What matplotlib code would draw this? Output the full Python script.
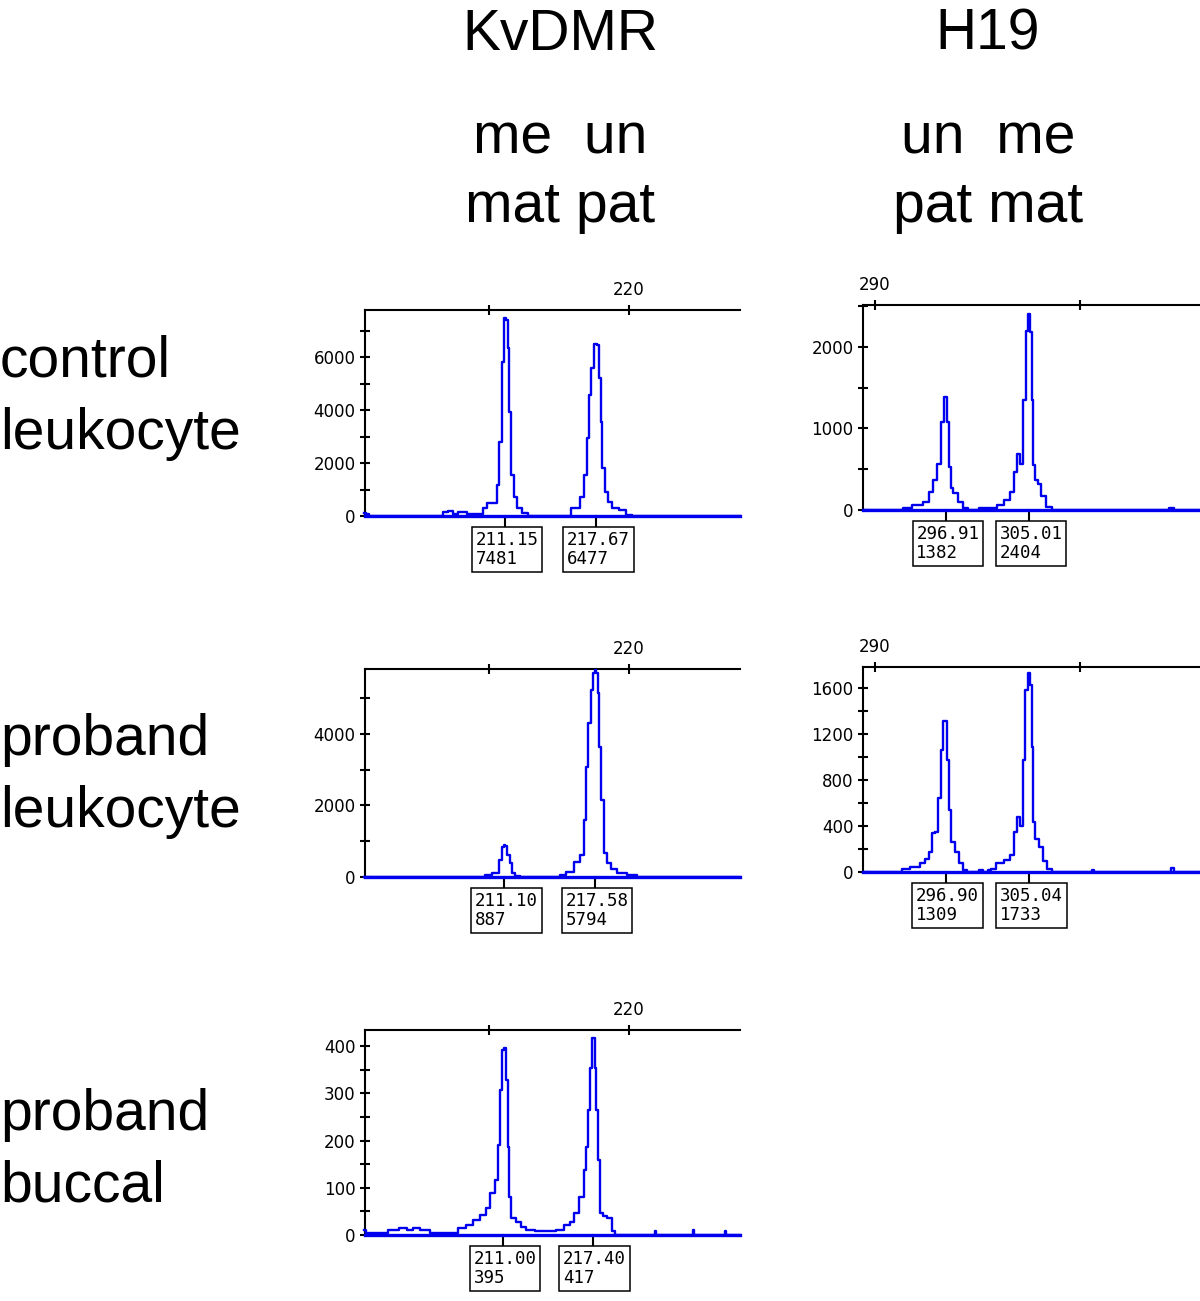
import matplotlib.pyplot as plt
from matplotlib.ticker import MultipleLocator

plt.rcParams['font.family'] = ['Liberation Sans', 'DejaVu Sans']

# column / row captions
col_titles = ['KvDMR', 'H19']
col_line1 = ['me  un', 'un  me']
col_line2 = ['mat pat', 'pat mat']
row_labels = [('control', 'leukocyte'), ('proband', 'leukocyte'), ('proband', 'buccal')]

# KvDMR, control leukocyte (size bp, height)
kv_ctrl_x = [201.1, 201.3, 201.6, 206.6, 206.8, 207.3, 207.6, 208.0, 208.8, 209.5,
             209.7, 210.0, 210.5, 210.64, 210.79, 211.0, 211.14, 211.3, 211.4, 211.5,
             211.71, 211.86, 212.07, 212.71, 212.93, 215.43, 216.29, 216.71, 216.93, 217.07,
             217.21, 217.36, 217.67, 217.79, 217.93, 218.07, 218.14, 218.43, 218.64, 219.0,
             219.57, 220.07, 220.3, 227.9]
kv_ctrl_y = [100, 60, 0, 0, 150, 170, 80, 160, 80, 80,
             300, 490, 490, 1170, 2800, 5800, 7481, 7400, 6340, 3920,
             1550, 720, 300, 110, 0, 0, 300, 720, 1550, 2940,
             4570, 5580, 6477, 6470, 5200, 3550, 1800, 900, 530, 300,
             230, 40, 0, 0]
kv_ctrl_peaks = [('211.15', '7481'), ('217.67', '6477')]

# H19, control leukocyte
h19_ctrl_x = [288.9, 292.7, 292.8, 294.39, 295.07, 295.56, 295.85, 296.24, 296.63, 296.83,
              297.0, 297.1, 297.3, 297.5, 297.8, 298.3, 298.8, 299.3, 300.9, 301.6,
              302.2, 302.9, 303.4, 303.7, 304.0, 304.3, 304.6, 304.8, 305.0, 305.2,
              305.4, 305.5, 305.8, 306.0, 306.4, 306.9, 307.6, 318.6, 318.7, 319.1,
              319.2, 321.7]
h19_ctrl_y = [0, 0, 30, 60, 100, 220, 370, 570, 1080, 1382,
              1382, 1080, 530, 270, 210, 100, 25, 0, 25, 25,
              60, 120, 220, 470, 690, 570, 1350, 2190, 2404, 2180,
              1350, 550, 370, 320, 170, 40, 0, 0, 30, 30,
              0, 0]
h19_ctrl_peaks = [('296.91', '1382'), ('305.01', '2404')]

# KvDMR, proband leukocyte
kv_pl_x = [201.1, 209.6, 209.86, 210.57, 210.79, 211.0, 211.1, 211.2, 211.36, 211.57,
           211.71, 212.07, 212.3, 215.0, 215.21, 215.79, 216.29, 216.64, 216.86, 217.0,
           217.14, 217.36, 217.5, 217.58, 217.71, 217.79, 217.93, 218.14, 218.29, 218.5,
           218.86, 219.36, 220.29, 220.8, 227.9]
kv_pl_y = [0, 0, 56, 110, 475, 840, 887, 880, 615, 390,
           110, 30, 0, 0, 56, 140, 420, 615, 1590, 3080,
           4300, 5230, 5700, 5794, 5700, 5150, 3640, 2150, 670, 390,
           220, 110, 56, 0, 0]
kv_pl_peaks = [('211.10', '887'), ('217.58', '5794')]

# H19, proband leukocyte
h19_pl_x = [288.9, 292.6, 292.7, 294.1, 294.6, 295.1, 295.4, 295.7, 296.0, 296.3,
            296.5, 296.7, 297.0, 297.1, 297.3, 297.6, 298.0, 298.3, 298.8, 299.2,
            300.0, 300.3, 300.8, 301.2, 301.5, 302.2, 302.9, 303.4, 303.7, 304.0,
            304.3, 304.5, 304.8, 305.0, 305.2, 305.4, 305.5, 305.8, 306.2, 306.6,
            306.9, 307.6, 311.1, 311.3, 311.5, 318.8, 319.0, 319.3, 321.7]
h19_pl_y = [0, 0, 25, 43, 78, 113, 174, 340, 350, 640,
            1060, 1309, 1309, 970, 540, 260, 174, 78, 17, 0,
            0, 17, 0, 17, 30, 78, 105, 150, 350, 480,
            400, 970, 1580, 1733, 1630, 1090, 435, 290, 215, 100,
            30, 0, 0, 20, 0, 0, 35, 0, 0]
h19_pl_peaks = [('296.90', '1309'), ('305.04', '1733')]

# KvDMR, proband buccal
kv_pb_x = [201.1, 201.3, 202.4, 203.2, 204.0, 204.3, 204.9, 205.2, 206.3, 207.7,
           207.9, 208.1, 208.6, 209.1, 209.6, 209.9, 210.3, 210.6, 210.7, 210.9,
           211.0, 211.1, 211.3, 211.4, 211.5, 211.7, 212.1, 212.4, 212.9, 213.6,
           214.4, 215.1, 215.6, 215.9, 216.3, 216.6, 216.9, 217.0, 217.1, 217.3,
           217.4, 217.5, 217.6, 217.7, 217.9, 218.0, 218.3, 218.6, 218.9, 219.1,
           221.8, 221.9, 222.0, 224.5, 224.6, 224.7, 226.8, 226.9, 227.0, 227.9]
kv_pb_y = [10, 4, 4, 10, 15, 10, 15, 10, 5, 5,
           15, 15, 21, 32, 42, 57, 89, 116, 190, 307,
           391, 395, 328, 186, 80, 36, 28, 17, 11, 8,
           8, 11, 21, 28, 47, 80, 138, 186, 264, 353,
           417, 417, 353, 264, 159, 47, 40, 36, 8, 0,
           0, 8, 0, 0, 10, 0, 0, 8, 0, 0]
kv_pb_peaks = [('211.00', '395'), ('217.40', '417')]

W, H = 1200, 1301
fig = plt.figure(figsize=(W / 100, H / 100), dpi=100)
blue = '#0000ee'


def panel(box, xlim, ytop, ymaj, ymin, xticks, xlabels, xs, ys, peaks):
    l, t, r, b = box
    ax = fig.add_axes([l / W, 1 - b / H, (r - l) / W, (b - t) / H])
    ax.plot(xs, ys, color=blue, lw=1.7, drawstyle='steps-mid', clip_on=False, zorder=3)
    ax.set_xlim(*xlim)
    ax.set_ylim(0, ytop)
    ax.spines['right'].set_visible(False)
    ax.spines['bottom'].set_color(blue)
    ax.spines['bottom'].set_linewidth(2.4)
    ax.spines['top'].set_linewidth(1.5)
    ax.spines['left'].set_linewidth(1.5)
    ax.xaxis.tick_top()
    ax.set_xticks(xticks, xlabels)
    ax.yaxis.set_major_locator(MultipleLocator(ymaj))
    ax.yaxis.set_minor_locator(MultipleLocator(ymin))
    ax.tick_params(which='both', direction='inout', length=7.5, width=1.5,
                   labelsize=12, labelfontfamily='DejaVu Sans')
    ax.tick_params(axis='x', pad=4)
    ax.tick_params(axis='y', pad=3)
    # peak labels under the baseline
    per_px = ytop / (b - t)
    for size, height in peaks:
        pos = float(size)
        ax.plot([pos, pos], [0, -11 * per_px], color='black', lw=1.5, clip_on=False)
        ax.annotate(size + '\n' + height, xy=(pos, 0), xytext=(-29.5, -15),
                    textcoords='offset pixels', ha='left', va='top',
                    family='DejaVu Sans Mono', fontsize=12.5, linespacing=1.05,
                    bbox=dict(boxstyle='square,pad=0.22', fc='white', ec='black', lw=1.1),
                    annotation_clip=False)
    return ax


panel((365, 310, 740, 516), (201.14, 227.93), 7774, 2000, 1000, [210, 220], ['', '220'],
      kv_ctrl_x, kv_ctrl_y, kv_ctrl_peaks)
panel((863, 305, 1200, 510), (288.83, 321.7), 2515, 1000, 500, [290, 310], ['290', ''],
      h19_ctrl_x, h19_ctrl_y, h19_ctrl_peaks)
panel((365, 669, 740, 877), (201.14, 227.93), 5818, 2000, 1000, [210, 220], ['', '220'],
      kv_pl_x, kv_pl_y, kv_pl_peaks)
panel((863, 667, 1200, 872), (288.83, 321.7), 1783, 400, 200, [290, 310], ['290', ''],
      h19_pl_x, h19_pl_y, h19_pl_peaks)
panel((365, 1030, 740, 1235), (201.14, 227.93), 434, 100, 50, [210, 220], ['', '220'],
      kv_pb_x, kv_pb_y, kv_pb_peaks)

# captions
for cx, title, l1, l2 in zip([560, 988], col_titles, col_line1, col_line2):
    fig.text(cx / W, 1 - 50 / H, title, ha='center', va='baseline', fontsize=41)
    fig.text(cx / W, 1 - 154 / H, l1, ha='center', va='baseline', fontsize=41)
    fig.text(cx / W, 1 - 222 / H, l2, ha='center', va='baseline', fontsize=41)

for (a, b), y0 in zip(row_labels, [377, 755, 1130]):
    fig.text(0, 1 - y0 / H, a, ha='left', va='baseline', fontsize=41)
    fig.text(0, 1 - (y0 + 72) / H, b, ha='left', va='baseline', fontsize=41)

fig.savefig('out.png', dpi=100)
